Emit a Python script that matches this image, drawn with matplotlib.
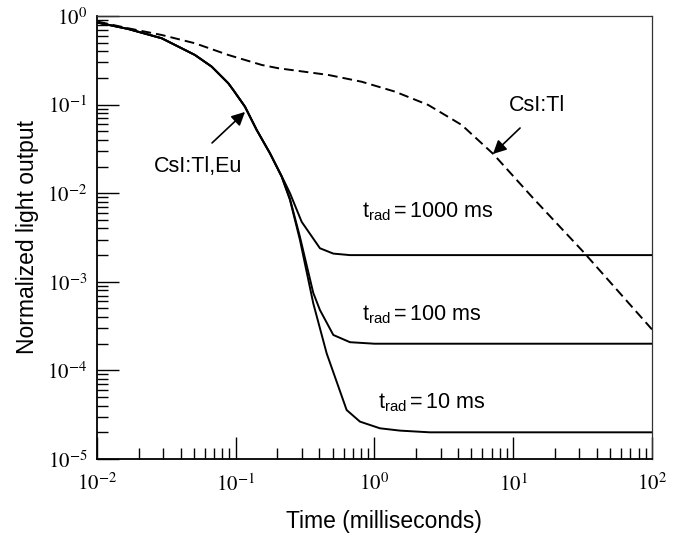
import numpy as np
import matplotlib
matplotlib.use("Agg")
from matplotlib import pyplot as plt
from matplotlib.ticker import LogLocator, FixedLocator, NullFormatter

plt.rcParams['font.family'] = ['Liberation Sans', 'DejaVu Sans']
plt.rcParams['mathtext.fontset'] = 'stix'

# CsI:Tl (dashed)
t_tl = [0.0102, 0.0168, 0.0293, 0.0508, 0.0884, 0.154, 0.203, 0.465, 0.809, 1.405, 2.44, 4.25, 7.18, 13.9, 31.8, 100]
v_tl = [0.862, 0.726, 0.61, 0.492, 0.363, 0.28, 0.257, 0.216, 0.181, 0.14, 0.099, 0.0589, 0.0277, 0.0088, 0.0022, 0.00029]

# CsI:Tl,Eu with trad = 10 ms
t_10 = [0.0102, 0.0168, 0.0293, 0.0508, 0.0671, 0.0884, 0.096, 0.1166, 0.1416, 0.1765, 0.2144,
        0.246, 0.2904, 0.362, 0.452, 0.63, 0.786, 1.095, 1.527, 2.5, 100]
v_10 = [0.84, 0.713, 0.56, 0.363, 0.268, 0.174, 0.146, 0.0947, 0.0517, 0.0282, 0.01535,
        0.0084, 0.00296, 5.72e-4, 1.56e-4, 3.57e-5, 2.64e-5, 2.22e-5, 2.09e-5, 2.0e-5, 2.0e-5]

# trad = 100 ms
t_100 = [0.0102, 0.0168, 0.0293, 0.0508, 0.0671, 0.0884, 0.096, 0.1166, 0.1416, 0.1765, 0.2144,
         0.246, 0.2904, 0.362, 0.4045, 0.505, 0.666, 1.0, 100]
v_100 = [0.84, 0.713, 0.56, 0.363, 0.268, 0.174, 0.146, 0.0947, 0.0517, 0.0282, 0.01535,
         0.0086, 0.0032, 7.5e-4, 4.8e-4, 2.51e-4, 2.08e-4, 2.0e-4, 2.0e-4]

# trad = 1000 ms
t_1000 = [0.0102, 0.0168, 0.0293, 0.0508, 0.0671, 0.0884, 0.096, 0.1166, 0.1416, 0.1765, 0.2144,
          0.246, 0.2987, 0.4045, 0.505, 0.666, 100]
v_1000 = [0.84, 0.713, 0.56, 0.363, 0.268, 0.174, 0.146, 0.0947, 0.0517, 0.0282, 0.0156,
          0.0100, 0.00475, 0.00239, 0.00208, 0.002, 0.002]

x_ticks = [1e-2, 1e-1, 1e0, 1e1, 1e2]
x_labels = ['$10^{-2}$', '$10^{-1}$', '$10^{0}$', '$10^{1}$', '$10^{2}$']
y_ticks = [1e-5, 1e-4, 1e-3, 1e-2, 1e-1, 1e0]
y_labels = ['$10^{-5}$', '$10^{-4}$', '$10^{-3}$', '$10^{-2}$', '$10^{-1}$', '$10^{0}$']

fig = plt.figure(figsize=(6.81, 5.47), dpi=100)
ax = fig.add_axes([0.1424, 0.1609, 0.815, 0.8099])

ax.plot(t_tl, v_tl, color='black', lw=1.4, dashes=(5, 2.6))
ax.plot(t_10, v_10, color='black', lw=1.4)
ax.plot(t_100, v_100, color='black', lw=1.4)
ax.plot(t_1000, v_1000, color='black', lw=1.4)

ax.set_xscale('log')
ax.set_yscale('log')
ax.set_xlim(1e-2, 1e2)
ax.set_ylim(1e-5, 1e0)

ax.xaxis.set_major_locator(FixedLocator(x_ticks))
ax.set_xticklabels(x_labels)
ax.yaxis.set_major_locator(FixedLocator(y_ticks))
ax.set_yticklabels(y_labels)
ax.xaxis.set_minor_locator(LogLocator(base=10, subs=np.arange(2, 10), numticks=20))
ax.yaxis.set_minor_locator(LogLocator(base=10, subs=np.arange(2, 10), numticks=20))
ax.xaxis.set_minor_formatter(NullFormatter())
ax.yaxis.set_minor_formatter(NullFormatter())

ax.tick_params(which='major', direction='in', length=16, width=1.0, labelsize=15)
ax.tick_params(which='minor', direction='in', length=8, width=1.0)
ax.tick_params(axis='x', which='major', pad=10)
ax.tick_params(axis='y', which='major', pad=7)

for side in ['left', 'bottom']:
    ax.spines[side].set_linewidth(1.3)
for side in ['top', 'right']:
    ax.spines[side].set_linewidth(0.9)
    ax.spines[side].set_color('#333333')

ax.set_xlabel('Time (milliseconds)', fontsize=16.5)
ax.xaxis.set_label_coords(0.517, -0.115)
ax.set_ylabel('Normalized light output', fontsize=16.5)
ax.yaxis.set_label_coords(-0.104, 0.5)

arrow = dict(arrowstyle='-|>', color='black', lw=1.2, mutation_scale=20, shrinkA=0, shrinkB=0)
ax.annotate('', xy=(0.1167, 0.0826), xytext=(0.0675, 0.0369), arrowprops=arrow)
ax.text(0.0535, 0.0198, 'CsI:Tl,Eu', fontsize=15.5, ha='center', va='center')
ax.annotate('', xy=(7.14, 0.0277), xytext=(11.2, 0.0544), arrowprops=arrow)
ax.text(14.8, 0.0964, 'CsI:Tl', fontsize=15.5, ha='center', va='center')

ax.text(0.813, 0.00538, r'$\mathregular{t_{rad}}$$\mathregular{=}$1000 ms', fontsize=15.5, va='baseline')
ax.text(0.813, 3.7e-4, r'$\mathregular{t_{rad}}$$\mathregular{=}$100 ms', fontsize=15.5, va='baseline')
ax.text(1.06, 3.77e-5, r'$\mathregular{t_{rad}}$$\mathregular{=}$10 ms', fontsize=15.5, va='baseline')

fig.savefig('out.png', dpi=100)
